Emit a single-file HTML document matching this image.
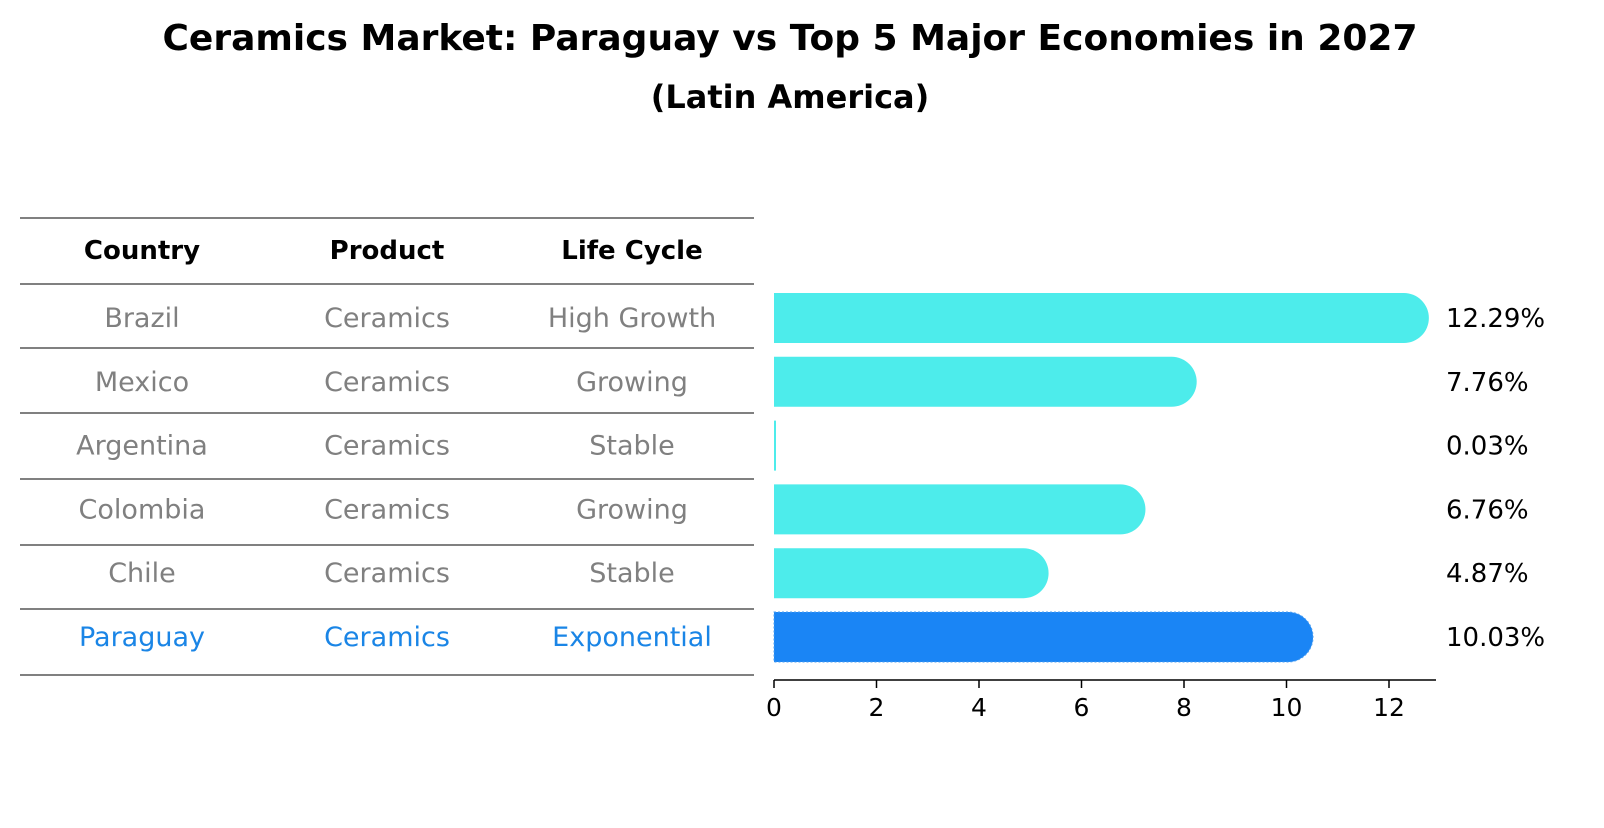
<!DOCTYPE html>
<html><head><meta charset="utf-8"><style>
body{margin:0;background:#fff;font-family:"Liberation Sans","DejaVu Sans",sans-serif}
svg text{font-family:"DejaVu Sans","Liberation Sans",sans-serif}
</style></head><body>
<svg width="1604" height="823" viewBox="0 0 1604 823">
<text x="790" y="50" text-anchor="middle" font-size="36" font-weight="bold">Ceramics Market: Paraguay vs Top 5 Major Economies in 2027</text>
<text x="790" y="108" text-anchor="middle" font-size="32" font-weight="bold">(Latin America)</text>
<g id="table"></g>
<g id="bars"></g>
</svg>
<script>
const countries=["Brazil","Mexico","Argentina","Colombia","Chile","Paraguay"];
const products=["Ceramics","Ceramics","Ceramics","Ceramics","Ceramics","Ceramics"];
const lifecycle=["High Growth","Growing","Stable","Growing","Stable","Exponential"];
const values=[12.29,7.76,0.03,6.76,4.87,10.03];
const ticks=[0,2,4,6,8,10,12];
const NS="http://www.w3.org/2000/svg";
function mk(t,a,p){const e=document.createElementNS(NS,t);for(const k in a)e.setAttribute(k,a[k]);p.appendChild(e);return e;}
const tb=document.getElementById('table');
const lines=[218,284,348,413,479,545,609,675];
lines.forEach((y,i)=>{const l=mk('line',{x1:20,x2:754,y1:y,y2:y,stroke:'#000','stroke-width':1},tb);

});
const cx=[142,387,632];
["Country","Product","Life Cycle"].forEach((h,i)=>{const t=mk('text',{x:cx[i],y:259,'text-anchor':'middle','font-size':26,'font-weight':'bold'},tb);t.textContent=h;

});
const rowY=i=>318+i*(637-318)/5;
countries.forEach((c,i)=>{const col=i===5?'#1a85e6':'#808080';
[c,products[i],lifecycle[i]].forEach((v,j)=>{const t=mk('text',{x:cx[j],y:rowY(i)+9,'text-anchor':'middle','font-size':27,fill:col},tb);t.textContent=v;

});});
const bg=document.getElementById('bars');
const x0=774,ppu=(1389-774)/12;
const xs=v=>x0+v*ppu;
const bh=50,r=25;
values.forEach((v,i)=>{const y=rowY(i)-bh/2;const w=xs(v)-x0;const col=i===5?'#1a85f5':'#4deceb';
let d;
if(w>r){d=`M${x0},${y}H${x0+w}A${r},${r} 0 0 1 ${x0+w},${y+bh}H${x0}Z`;}else{d=`M${x0},${y}h2v${bh}h-2Z`;}
const p=mk('path',{d:d,fill:col},bg);
if(i===5){p.setAttribute('stroke','#4d9ff0');p.setAttribute('stroke-dasharray','2 2');}


const t=mk('text',{x:1446,y:rowY(i)+9,'font-size':26},bg);t.textContent=v.toFixed(2)+'%';

});
const ax=mk('line',{x1:x0,x2:1436,y1:680,y2:680,stroke:'#000','stroke-width':1.5},bg);


ticks.forEach(v=>{const l=mk('line',{x1:xs(v),x2:xs(v),y1:680,y2:688,stroke:'#000','stroke-width':1.5},bg);


const t=mk('text',{x:xs(v),y:716,'text-anchor':'middle','font-size':25},bg);t.textContent=v;

});
</script>
</body></html>
